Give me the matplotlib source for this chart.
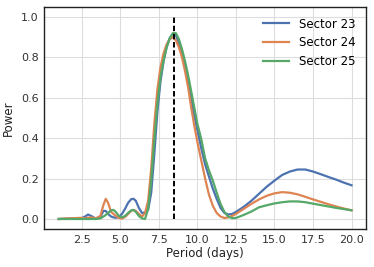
import matplotlib
matplotlib.use('Agg')
import matplotlib.pyplot as plt

# periodogram (period in days, power)
period = [1.0, 1.5, 2.0, 2.5, 2.7, 2.9, 3.1, 3.4, 3.7, 3.9, 4.05, 4.2, 4.4, 4.55, 4.7,
          4.9, 5.1, 5.3, 5.5, 5.7, 5.85, 6.0, 6.2, 6.4, 6.6, 6.8, 7.0, 7.2, 7.4, 7.6,
          7.8, 8.0, 8.2, 8.4, 8.6, 8.8, 9.0, 9.2, 9.4, 9.6, 9.8, 10.0, 10.25, 10.5,
          10.75, 11.0, 11.25, 11.5, 11.75, 12.0, 12.25, 12.5, 13.0, 13.5, 14.0, 14.5,
          15.0, 15.5, 16.0, 16.5, 17.0, 17.5, 18.0, 18.5, 19.0, 19.5, 20.0]

sector23 = [0.0, 0.001, 0.002, 0.004, 0.012, 0.022, 0.015, 0.002, 0.01, 0.04, 0.04, 0.025,
            0.012, 0.008, 0.006, 0.01, 0.025, 0.05, 0.08, 0.098, 0.10, 0.09, 0.055, 0.03,
            0.032, 0.045, 0.13, 0.32, 0.53, 0.68, 0.78, 0.85, 0.895, 0.915, 0.91, 0.87,
            0.82, 0.76, 0.68, 0.60, 0.51, 0.44, 0.35, 0.27, 0.21, 0.15, 0.10, 0.055,
            0.03, 0.022, 0.025, 0.035, 0.06, 0.09, 0.125, 0.16, 0.19, 0.218, 0.235,
            0.245, 0.245, 0.235, 0.222, 0.208, 0.195, 0.18, 0.167]

sector24 = [0.0, 0.003, 0.004, 0.006, 0.003, 0.006, 0.008, 0.003, 0.015, 0.07, 0.10, 0.08,
            0.035, 0.025, 0.015, 0.005, 0.002, 0.01, 0.025, 0.04, 0.045, 0.04, 0.025,
            0.012, 0.03, 0.09, 0.25, 0.47, 0.64, 0.75, 0.82, 0.865, 0.89, 0.90, 0.885,
            0.85, 0.80, 0.73, 0.65, 0.55, 0.46, 0.38, 0.29, 0.20, 0.12, 0.065, 0.03,
            0.012, 0.005, 0.008, 0.015, 0.025, 0.05, 0.075, 0.097, 0.115, 0.127, 0.133,
            0.13, 0.122, 0.11, 0.097, 0.085, 0.073, 0.062, 0.052, 0.043]

sector25 = [0.0, 0.0, 0.0, 0.0, 0.0, 0.0, 0.0, 0.0, 0.003, 0.012, 0.02, 0.03, 0.043, 0.045,
            0.035, 0.015, 0.008, 0.015, 0.03, 0.043, 0.045, 0.035, 0.015, 0.003, 0.0,
            0.05, 0.19, 0.39, 0.57, 0.70, 0.785, 0.85, 0.895, 0.92, 0.92, 0.89, 0.84,
            0.78, 0.71, 0.63, 0.55, 0.47, 0.395, 0.30, 0.24, 0.19, 0.13, 0.075, 0.035,
            0.012, 0.004, 0.005, 0.02, 0.037, 0.058, 0.068, 0.077, 0.083, 0.087, 0.087,
            0.083, 0.076, 0.069, 0.062, 0.055, 0.049, 0.043]

best_period = 8.45
labels = ['Sector 23', 'Sector 24', 'Sector 25']
colors = ['#4C72B0', '#DD8452', '#55A868']

fig = plt.figure(figsize=(3.74, 2.67), dpi=100)
ax = fig.add_axes([0.118, 0.142, 0.861, 0.832])

for y, lab, c in zip([sector23, sector24, sector25], labels, colors):
    ax.plot(period, y, color=c, lw=1.6, label=lab)

ax.vlines(best_period, 0, 1.0, colors='k', linestyles=[(0, (2.8, 1.4))], lw=1.4, zorder=5)

ax.set_xticks([2.5, 5.0, 7.5, 10.0, 12.5, 15.0, 17.5, 20.0])
ax.set_yticks([0.0, 0.2, 0.4, 0.6, 0.8, 1.0])
ax.grid(True, color='#dddddd', lw=0.8)
ax.set_axisbelow(True)
ax.tick_params(length=0, labelsize=8, colors='#333333', pad=4)
for s in ax.spines.values():
    s.set_color('#222222')
    s.set_linewidth(1.0)

ax.set_xlabel('Period (days)', fontsize=8.5, color='#222222', labelpad=2)
ax.set_ylabel('Power', fontsize=8.5, color='#222222', labelpad=4)
ax.legend(loc='upper right', frameon=False, fontsize=8.5, labelspacing=0.47,
          handlelength=2.2, borderaxespad=0.5)

fig.savefig('out.png', dpi=100)
